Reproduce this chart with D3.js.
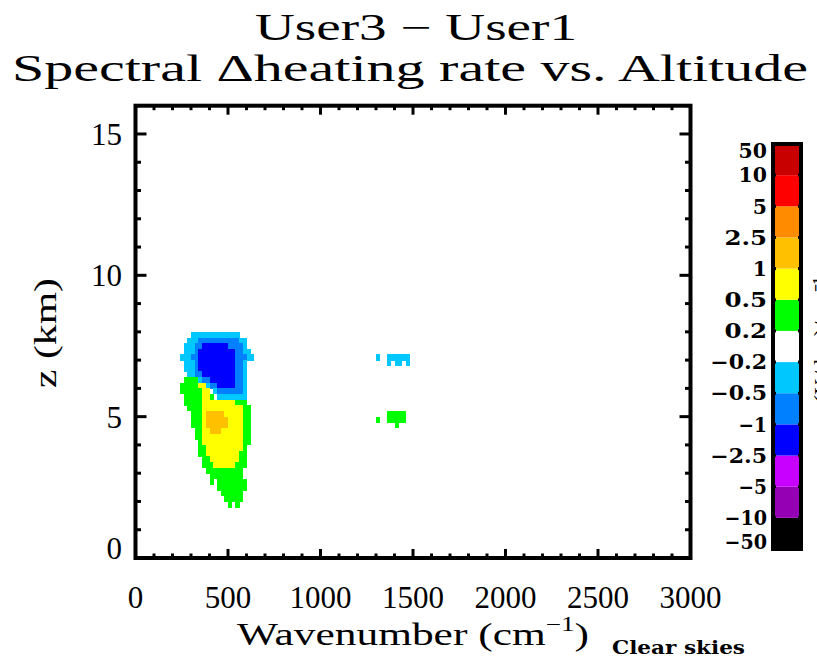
<!DOCTYPE html>
<html>
<head>
<meta charset="utf-8">
<script src="https://cdn.jsdelivr.net/npm/d3@7"></script>
<style>
  body { margin: 0; background: #fff; }
  svg { display: block; }
</style>
</head>
<body>
<div id="chart"></div>
<script>
// ---- data ----
const titleLines = ['User3 \u2212 User1', 'Spectral \u0394heating rate vs. Altitude'];
const xTicks = [0, 500, 1000, 1500, 2000, 2500, 3000];
const yTicks = [0, 5, 10, 15];
const levelEdges = [-50, -10, -5, -2.5, -1, -0.5, -0.2, 0.2, 0.5, 1, 2.5, 5, 10, 50];
const levelColors = ['#000000', '#9600b4', '#c800ff', '#0000ff', '#0080ff', '#00c8ff',
  '#ffffff', '#00ff00', '#ffff00', '#ffc000', '#ff8c00', '#ff0000', '#c80000'];

// cell codes -> representative Δheating value of that class
const cellValues = { '.': 0, g: 0.3, y: 0.7, o: 1.5, c: -0.3, b: -0.7, B: -1.5 };

// 20 cm-1 columns, 0.2 km rows, top row first
const lwRows = [
  '...ccccccccccccc....', // 7.8-8.0
  '..cccbbbbbbbbbbbcc..',
  '.cccbbBBBBBBBbbbbc..',
  '.cccbBBBBBBBBBBbbcc.',
  'cccbbBBBBBBBBBBbbbcc', // 7.0-7.2
  '.cccbBBBBBBBBBBbbc..',
  '.cccbBBBBBBBBBBbbc..',
  '..ccbbBBBBBBBBBbbc..',
  '.ggggcbbBBBBBBBbbc..',
  'gggggyycbbBBBBBbbc..', // 6.0-6.2
  'ggggggyy.cbbbbbbbc..',
  '.gggggyyg.cccccccc..',
  '.gggggyyyyyyyyyggg..',
  '..ggggyyyyyyyyyyygg.',
  '...gggyoooooyyyyygg.', // 5.0-5.2
  '...gggyooooooyyyygg.',
  '...gggyooooooyyyygg.',
  '....ggyyoooyyyyyygg.',
  '....ggyyyyyyyyyyygg.',
  '.....gyyyyyyyyyyygg.', // 4.0-4.2
  '.....ggyyyyyyyyyyg..',
  '.....ggyyyyyyyyygg..',
  '......ggyyyyyyyygg..',
  '......gggyyyyyyggg..',
  '.......gggggggggg...', // 3.0-3.2
  '........ggggggggg...',
  '........g.gggggggg..',
  '..........gggggggg..',
  '...........gggggg...',
  '............ggggg...', // 2.0-2.2
  '.............g.g....'
];
const h2oUpperRows = [
  'c..cccccc.', // 7.0-7.2
  '...c.cc.c.'
];
const h2oLowerRows = [
  '...ggggg..', // 5.0-5.2
  'g..ggggg..',
  '.....g....'
];
const bands = [
  { w0: 240, zTop: 8.0, rows: lwRows },
  { w0: 1300, zTop: 7.2, rows: h2oUpperRows },
  { w0: 1300, zTop: 5.2, rows: h2oLowerRows }
];
const dw = 20, dz = 0.2;

// ---- layout ----
const width = 817, height = 660;
const x = d3.scaleLinear().domain([0, 3000]).range([135.5, 690.5]);
const y = d3.scaleLinear().domain([0, 16]).range([558, 105.7]);
const color = d3.scaleThreshold()
  .domain(levelEdges.slice(1, -1))
  .range(levelColors);

const serif = '"Liberation Serif", "Times New Roman", serif';
const boldSerif = '"DejaVu Serif", serif';

const svg = d3.select('#chart').append('svg')
  .attr('width', width).attr('height', height);

// title
svg.append('text')
  .attr('x', 416).attr('y', 40)
  .attr('text-anchor', 'middle')
  .attr('font-family', serif).attr('font-size', 37)
  .attr('textLength', 322).attr('lengthAdjust', 'spacingAndGlyphs')
  .text(titleLines[0]);
svg.append('text')
  .attr('x', 410).attr('y', 81)
  .attr('text-anchor', 'middle')
  .attr('font-family', serif).attr('font-size', 37)
  .attr('textLength', 796).attr('lengthAdjust', 'spacingAndGlyphs')
  .text(titleLines[1]);

// cells
const cells = [];
bands.forEach(b => {
  b.rows.forEach((row, i) => {
    [...row].forEach((ch, j) => {
      const v = cellValues[ch];
      if (v === 0) return;
      cells.push({ w: b.w0 + j * dw, z: b.zTop - (i + 1) * dz, v });
    });
  });
});

svg.append('g')
  .attr('shape-rendering', 'crispEdges')
  .selectAll('rect')
  .data(cells)
  .join('rect')
  .attr('x', d => x(d.w))
  .attr('y', d => y(d.z + dz))
  .attr('width', d => x(d.w + dw) - x(d.w) + 0.4)
  .attr('height', d => y(d.z) - y(d.z + dz) + 0.4)
  .attr('fill', d => color(d.v));

// frame + inward ticks
const frame = svg.append('g').attr('stroke', '#000').attr('fill', 'none');
frame.append('rect')
  .attr('x', x(0)).attr('y', y(16))
  .attr('width', x(3000) - x(0)).attr('height', y(0) - y(16))
  .attr('stroke-width', 4);

const xMinor = d3.range(0, 3001, 100);
const yMinor = d3.range(0, 17, 1);
xMinor.forEach(w => {
  const len = w % 500 === 0 ? 9 : 4.5;
  frame.append('line').attr('x1', x(w)).attr('x2', x(w))
    .attr('y1', y(0)).attr('y2', y(0) - len).attr('stroke-width', 3);
  frame.append('line').attr('x1', x(w)).attr('x2', x(w))
    .attr('y1', y(16)).attr('y2', y(16) + len).attr('stroke-width', 3);
});
yMinor.forEach(z => {
  const len = z % 5 === 0 ? 11 : 5.5;
  frame.append('line').attr('y1', y(z)).attr('y2', y(z))
    .attr('x1', x(0)).attr('x2', x(0) + len).attr('stroke-width', 3);
  frame.append('line').attr('y1', y(z)).attr('y2', y(z))
    .attr('x1', x(3000)).attr('x2', x(3000) - len).attr('stroke-width', 3);
});

// tick labels
svg.append('g')
  .selectAll('text')
  .data(xTicks)
  .join('text')
  .attr('x', d => x(d)).attr('y', 608)
  .attr('text-anchor', 'middle')
  .attr('font-family', serif).attr('font-size', 31)
  .text(d => d);

svg.append('g')
  .selectAll('text')
  .data(yTicks)
  .join('text')
  .attr('x', 122).attr('y', d => y(d) + (d === 0 ? -10 : 0))
  .attr('dy', '0.35em')
  .attr('text-anchor', 'end')
  .attr('font-family', serif).attr('font-size', 31)
  .text(d => d);

// axis titles
const xTitle = svg.append('text')
  .attr('x', 413).attr('y', 645)
  .attr('text-anchor', 'middle')
  .attr('font-family', serif).attr('font-size', 32)
  .attr('textLength', 352).attr('lengthAdjust', 'spacingAndGlyphs');
xTitle.append('tspan').text('Wavenumber (cm');
xTitle.append('tspan').attr('dy', -14).attr('font-size', 20).text('\u22121');
xTitle.append('tspan').attr('dy', 14).text(')');

svg.append('text')
  .attr('transform', 'translate(56,333) rotate(-90)')
  .attr('text-anchor', 'middle')
  .attr('font-family', serif).attr('font-size', 32)
  .attr('textLength', 110).attr('lengthAdjust', 'spacingAndGlyphs')
  .text('z (km)');

svg.append('text')
  .attr('x', 612).attr('y', 654)
  .attr('font-family', boldSerif).attr('font-weight', 'bold').attr('font-size', 18)
  .attr('textLength', 133).attr('lengthAdjust', 'spacingAndGlyphs')
  .text('Clear skies');

// colour bar
const cb = { x0: 773, x1: 801, top: 144, bottom: 549 };
const nBox = levelColors.length;
const cbY = d3.scaleLinear().domain([0, nBox]).range([cb.bottom, cb.top]);
const cbG = svg.append('g');
cbG.selectAll('rect')
  .data(levelColors)
  .join('rect')
  .attr('x', cb.x0).attr('width', cb.x1 - cb.x0)
  .attr('y', (d, i) => cbY(i + 1))
  .attr('height', (d, i) => cbY(i) - cbY(i + 1))
  .attr('fill', d => d);
cbG.append('rect')
  .attr('x', cb.x0).attr('y', cb.top)
  .attr('width', cb.x1 - cb.x0).attr('height', cb.bottom - cb.top)
  .attr('fill', 'none').attr('stroke', '#000').attr('stroke-width', 4);
d3.range(1, nBox).forEach(i => {
  cbG.append('line').attr('x1', cb.x0).attr('x2', cb.x0 + 3)
    .attr('y1', cbY(i)).attr('y2', cbY(i)).attr('stroke', '#000').attr('stroke-width', 3);
  cbG.append('line').attr('x1', cb.x1).attr('x2', cb.x1 - 3)
    .attr('y1', cbY(i)).attr('y2', cbY(i)).attr('stroke', '#000').attr('stroke-width', 3);
});
cbG.selectAll('text')
  .data(levelEdges)
  .join('text')
  .attr('x', 767)
  .attr('y', (d, i) => cbY(i) + (i === 0 ? -7 : i === nBox ? 7 : 0))
  .attr('dy', '0.36em')
  .attr('text-anchor', 'end')
  .attr('font-family', boldSerif).attr('font-weight', 'bold').attr('font-size', 20)
  .attr('textLength', d => (String(Math.abs(d)).length + (d < 0 ? 1 : 0)) * 14.2)
  .attr('lengthAdjust', 'spacingAndGlyphs')
  .text(d => (d < 0 ? '\u2212' : '') + Math.abs(d));

// colour bar title, mostly beyond the right edge
svg.append('text')
  .attr('transform', 'translate(830,340) rotate(-90)')
  .attr('text-anchor', 'middle')
  .attr('font-family', serif).attr('font-size', 24)
  .text('(K/day)/cm\u207B\u00B9');
</script>
</body>
</html>
